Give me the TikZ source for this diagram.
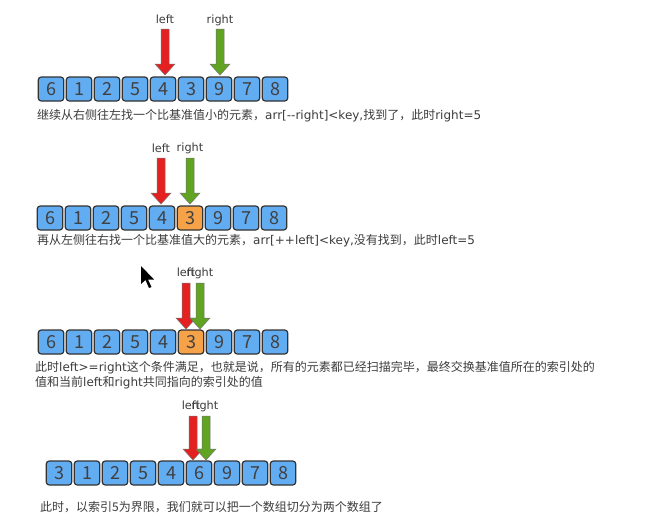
\documentclass[tikz,border=0pt]{standalone}
\usepackage{fontspec}
\setmainfont{DejaVu Sans}
\newfontfamily\cjk{Noto Sans CJK SC}
\newcommand{\zh}[1]{{\cjk #1}}
\usetikzlibrary{calc}
\definecolor{boxblue}{RGB}{98,172,242}
\definecolor{boxorange}{RGB}{246,162,72}
\definecolor{arrred}{RGB}{228,32,32}
\definecolor{arrgreen}{RGB}{96,164,34}
\definecolor{txt}{RGB}{60,60,60}
\tikzset{
  cell/.style={draw=black!80, line width=1.2pt, rounded corners=3pt, fill=boxblue,
    minimum width=25.5pt, minimum height=24pt, inner sep=0pt,
    font=\cjk\fontsize{18}{18}\selectfont, text=black!75},
  hot/.style={cell, fill=boxorange},
  lbl/.style={font=\fontsize{11.3}{11.3}\selectfont, text=txt, inner sep=0pt},
  note/.style={text=txt, inner sep=0pt, anchor=west, align=left, font=\fontsize{12}{15}\selectfont},
  redarr/.style={fill=arrred, draw=black!55, line width=0.5pt, line join=miter},
  greenarr/.style={fill=arrgreen, draw=black!55, line width=0.5pt, line join=miter}
}
% #1 style, #2 x, #3 top y, #4 tip y
\newcommand{\dnarrow}[4]{%
  \path[#1] (#2-4,#3) -- (#2+4,#3) -- (#2+4,#4-11) -- (#2+10,#4-11) -- (#2,#4) -- (#2-10,#4-11) -- (#2-4,#4-11) -- cycle;}
\newcommand{\cellrow}[5]{% #1 prefix, #2 first center x, #3 y, #4 values list, #5 hot index
  \foreach \v [count=\i from 0] in {#4} {
    \ifnum\i=#5 \node[hot] (#1\i) at (#2+28*\i,#3) {\v};
    \else \node[cell] (#1\i) at (#2+28*\i,#3) {\v}; \fi
  }}
\begin{document}
\begin{tikzpicture}[x=1pt,y=-1pt]
\useasboundingbox[fill=white] (0,0) rectangle (645,523);

% Row 1
\cellrow{a}{51}{89}{6,1,2,5,4,3,9,7,8}{-1}
\node[lbl] (al) at (165,19) {left};
\node[lbl] (ar) at (220,20) {right};
\dnarrow{redarr}{165}{29}{75}
\dnarrow{greenarr}{220}{29}{75}
\node[note] (an) at (37,116) {\zh{继续从右侧往左找一个比基准值小的元素，}arr[-{}-right]<key,\zh{找到了，此时}right=5};

% Row 2
\cellrow{b}{50}{218}{6,1,2,5,4,3,9,7,8}{5}
\node[lbl] (bl) at (161,148) {left};
\node[lbl] (br) at (190,148) {right};
\dnarrow{redarr}{161}{158}{204}
\dnarrow{greenarr}{190}{158}{204}
\node[note] (bn) at (37,241) {\zh{再从左侧往右找一个比基准值大的元素，}arr[++left]<key,\zh{没有找到，此时}left=5};

% cursor
\path[fill=black] (141,266) -- (141,284) -- (145.5,280) -- (149,288) -- (151.5,287) -- (148,279.5) -- (154,279.5) -- cycle;

% Row 3
\cellrow{c}{51}{342}{6,1,2,5,4,3,9,7,8}{5}
\node[lbl] (cl) at (186,272) {left};
\node[lbl] (cr) at (200,273) {right};
\dnarrow{redarr}{186}{283}{329}
\dnarrow{greenarr}{200}{283}{329}
\node[note] (cn) at (35,375.5) {\zh{此时}left>=right\zh{这个条件满足，也就是说，所有的元素都已经扫描完毕，最终交换基准值所在的索引处的}\\\zh{值和当前}left\zh{和}right\zh{共同指向的索引处的值}};

% Row 4
\cellrow{d}{59}{473}{3,1,2,5,4,6,9,7,8}{-1}
\node[lbl] (dl) at (191,405) {left};
\node[lbl] (dr) at (205,406) {right};
\dnarrow{redarr}{193}{416}{460}
\dnarrow{greenarr}{206}{416}{460}
\node[note, font=\cjk\fontsize{12}{15}\selectfont] (dn) at (40,507) {此时，以索引5为界限，我们就可以把一个数组切分为两个数组了};
\end{tikzpicture}
\end{document}
